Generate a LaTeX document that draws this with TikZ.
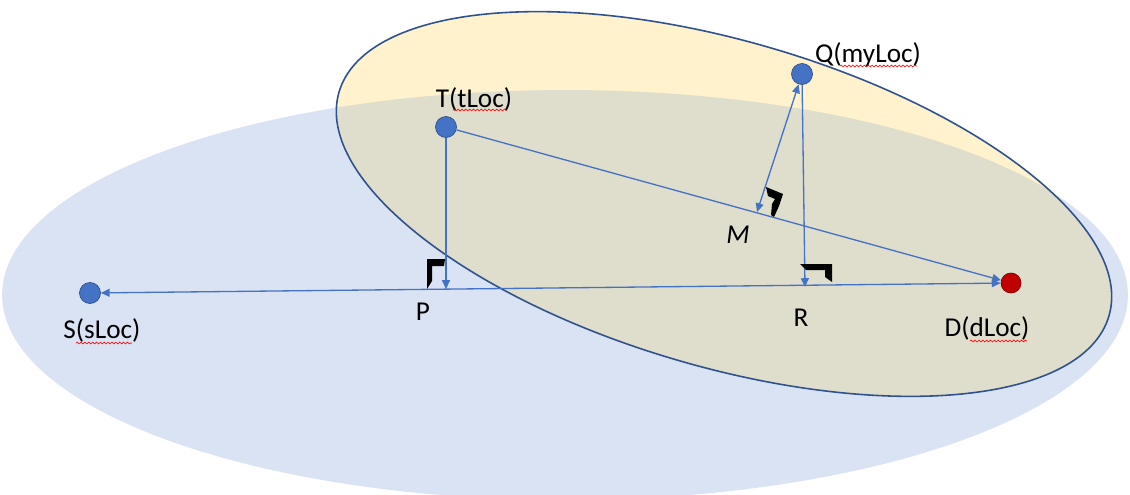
\documentclass[tikz,border=0pt]{standalone}
\usepackage{fontspec}
\setmainfont{Carlito}
\usetikzlibrary{arrows.meta,decorations.pathmorphing}
\definecolor{bgblue}{HTML}{DAE3F3}
\definecolor{ylw}{HTML}{FFF2CC}
\definecolor{ovl}{HTML}{DFDDCC}
\definecolor{outl}{HTML}{2F528F}
\definecolor{lineblue}{HTML}{4472C4}
\definecolor{dotred}{HTML}{C00000}
\tikzset{
  dot/.style={circle, fill=lineblue, draw=outl, line width=0.4pt, minimum size=0.42cm, inner sep=0pt},
  reddot/.style={circle, fill=dotred, draw=dotred!70!black, line width=0.4pt, minimum size=0.40cm, inner sep=0pt},
  lbl/.style={font=\fontsize{15.5}{18}\selectfont, inner sep=0pt},
  tip/.tip={Triangle[length=5pt,width=4.5pt]},
  arr/.style={draw=lineblue, line width=0.75pt, -tip},
  darr/.style={draw=lineblue, line width=0.75pt, tip-tip},
  squig/.style={draw=red, line width=0.35pt, decorate, decoration={snake, amplitude=0.5pt, segment length=2.2pt}},
  corner/.style={fill=black}
}
\begin{document}
\begin{tikzpicture}[x=0.02cm,y=-0.02cm]
\useasboundingbox (0,0) rectangle (1130,494);
\clip (0,0) rectangle (1130,494);
\fill[white] (0,0) rectangle (1130,494);
% big blue ellipse
\fill[bgblue] (565,295) ellipse [x radius=11.26cm, y radius=4.1cm];
% tilted yellow ellipse
\fill[ylw, rotate around={-16.2:(724,204)}] (724,204) ellipse [x radius=8.02cm, y radius=3.26cm];
\begin{scope}
  \clip (565,295) ellipse [x radius=11.26cm, y radius=4.1cm];
  \fill[ovl, rotate around={-16.2:(724,204)}] (724,204) ellipse [x radius=8.02cm, y radius=3.26cm];
\end{scope}
\draw[outl, line width=0.9pt, rotate around={-16.2:(724,204)}] (724,204) ellipse [x radius=8.02cm, y radius=3.26cm];

% points
\node[dot] (S) at (90,293) {};
\node[dot] (T) at (446,127) {};
\node[dot] (Q) at (802,74) {};
\node[reddot] (D) at (1011,283) {};
\coordinate (P) at (446,289);
\coordinate (R) at (805,287);
\coordinate (M) at (757,212);

% connectors
\draw[darr] (S) -- (D);
\draw[arr] (T) -- (D);
\draw[arr] (T) -- (P);
\draw[arr] (Q) -- (R);
\draw[darr] (M) -- (Q);

% right-angle marks
\fill[corner] (427,259) -- (445,259) -- (444,266) -- (432,266) -- (432,281) -- (427,289) -- cycle;
\fill[corner] (800,264) -- (832,264) -- (832,282) -- (825,277) -- (825,270) -- (806,270) -- cycle;
\fill[corner] (766,187) -- (783,194) -- (779,206) -- (774,217) -- (771,215) -- (772,204) -- (775,199) -- (768,196) -- cycle;

% labels
\node[lbl] (Tl) at (474,99) {T(tLoc)};
\node[lbl] (Ql) at (868,55) {Q(myLoc)};
\node[lbl] (Sl) at (102,330) {S(sLoc)};
\node[lbl] (Dl) at (987,328) {D(dLoc)};
\node[lbl] (Pl) at (423,312) {P};
\node[lbl] (Rl) at (801,318) {R};
\node[lbl, font=\fontsize{15.5}{18}\selectfont\itshape] (Ml) at (738,235) {M};

% spell-check squiggles
\draw[squig] (453,110) -- (507,110);
\draw[squig] (840,66) -- (917,66);
\draw[squig] (76,343) -- (132,343);
\draw[squig] (970,341) -- (1027,341);
\end{tikzpicture}
\end{document}
